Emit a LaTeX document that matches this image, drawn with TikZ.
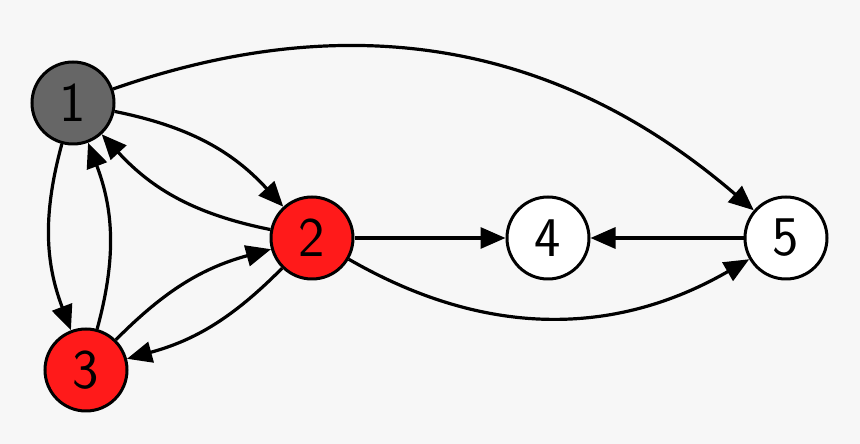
\documentclass[tikz,border=0pt]{standalone}
\usetikzlibrary{arrows.meta}
\definecolor{bg}{HTML}{F7F7F7}
\definecolor{nodegray}{HTML}{666666}
\definecolor{nodered}{HTML}{FF1A1A}
\begin{document}
\begin{tikzpicture}[x=1pt,y=1pt,
  vertex/.style={circle,draw=black,line width=3pt,minimum size=82pt,inner sep=0pt,
    font=\sffamily\fontsize{56}{56}\selectfont},
  edge/.style={line width=3.2pt,-{Triangle[length=25pt,width=21pt]}}]
\fill[bg] (0,0) rectangle (860,444);
\useasboundingbox (0,0) rectangle (860,444);
\node[vertex,fill=nodegray] (n1) at (73,341) {1};
\node[vertex,fill=nodered] (n2) at (312,206) {2};
\node[vertex,fill=nodered] (n3) at (86,74) {3};
\node[vertex,fill=white] (n4) at (548,206) {4};
\node[vertex,fill=white] (n5) at (786,206) {5};
\draw[edge] (n1) to[bend left=30] (n5);
\draw[edge] (n1) to[bend left=18] (n2);
\draw[edge] (n2) to[bend left=18] (n1);
\draw[edge] (n1) to[bend right=18] (n3);
\draw[edge] (n3) to[bend right=18] (n1);
\draw[edge] (n3) to[bend left=15] (n2);
\draw[edge] (n2) to[bend left=15] (n3);
\draw[edge] (n2) -- (n4);
\draw[edge] (n5) -- (n4);
\draw[edge] (n2) to[bend right=30] (n5);
\end{tikzpicture}
\end{document}
